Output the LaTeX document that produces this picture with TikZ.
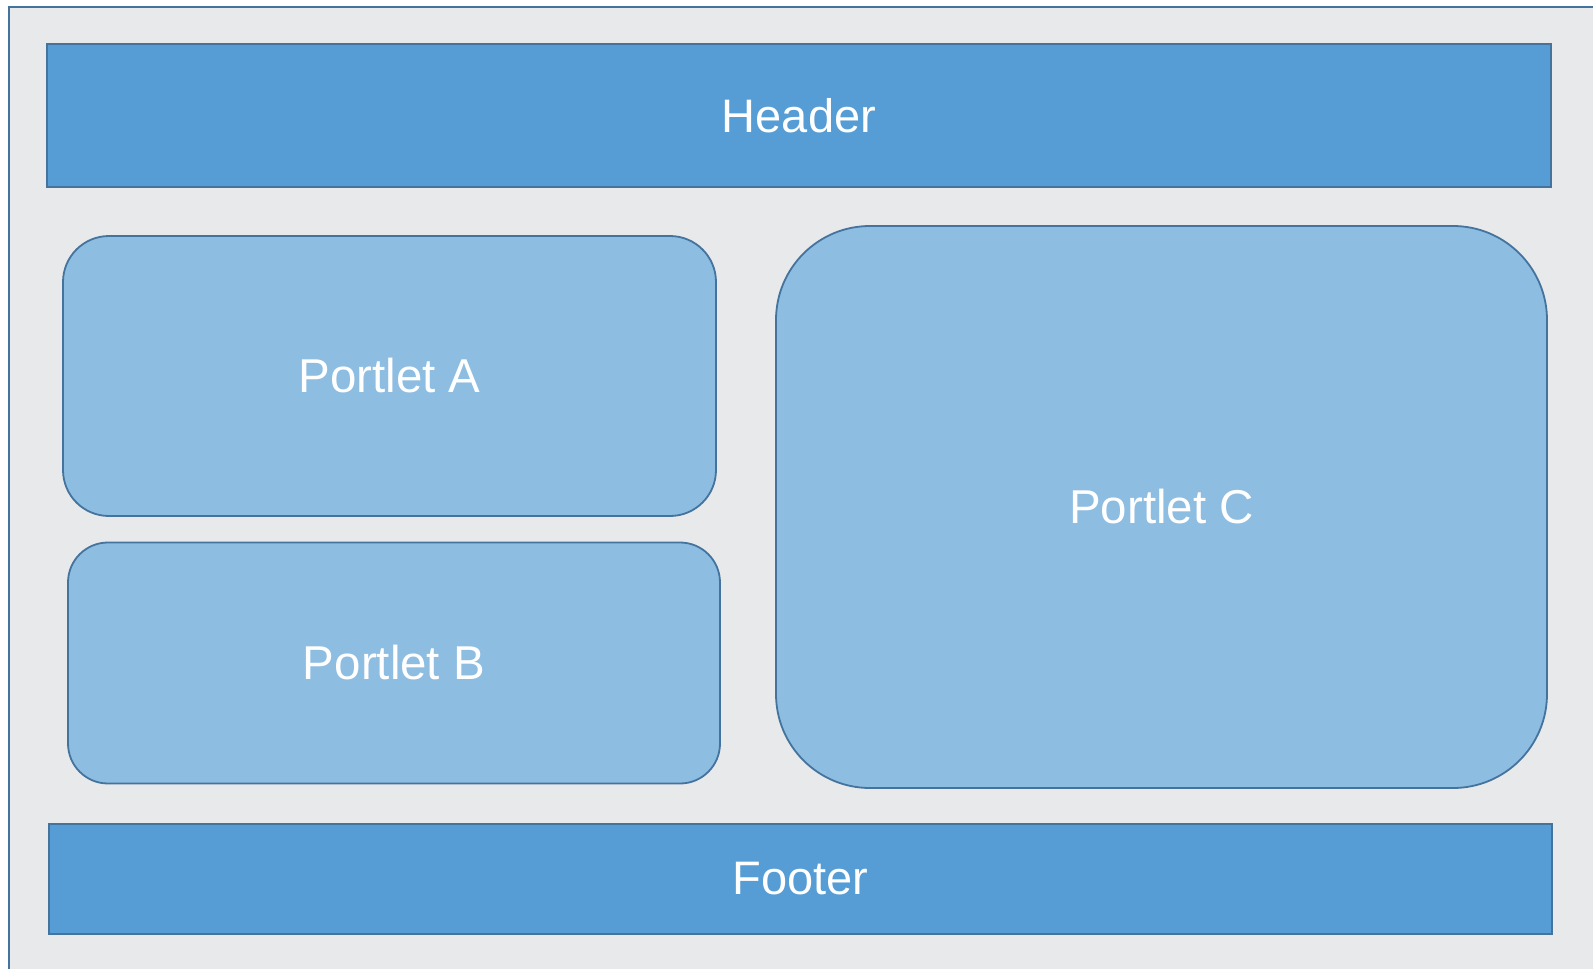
\documentclass[tikz,border=0pt]{standalone}
\usepackage{fontspec}
\setmainfont{Liberation Sans}
\definecolor{pageback}{HTML}{E8E9EB}
\definecolor{frameline}{HTML}{44739E}
\definecolor{barfill}{HTML}{559DD4}
\definecolor{portfill}{HTML}{8EBDE2}
\begin{document}
\begin{tikzpicture}[x=1pt,y=-1pt,line width=1.8pt,
		bar/.style={draw=frameline,fill=barfill,text=white,inner sep=0pt,
			font=\fontsize{47}{56}\selectfont},
		portlet/.style={draw=frameline,fill=portfill,text=white,inner sep=0pt,
			font=\fontsize{47.5}{57}\selectfont}]
		\useasboundingbox (0,0) rectangle (1593,969);
		\fill[white] (0,0) rectangle (1593,969);
		\draw[frameline,fill=pageback] (9,7) rectangle (1620,1000);
		% header and footer
		\node[bar,minimum width=1504pt,minimum height=143pt] (header) at (799,115.5) {Header};
		\node[bar,minimum width=1503pt,minimum height=110pt] (footer) at (800.5,879) {Footer};
		% portlets
		\node[portlet,rounded corners=46pt,minimum width=653pt,minimum height=280pt] (portletA) at (389.5,376) {Portlet A};
		\node[portlet,rounded corners=40pt,minimum width=652pt,minimum height=241pt] (portletB) at (394,663) {Portlet B};
		\node[portlet,rounded corners=94pt,minimum width=771pt,minimum height=562pt] (portletC) at (1161.5,507) {Portlet C};
	\end{tikzpicture}
\end{document}
